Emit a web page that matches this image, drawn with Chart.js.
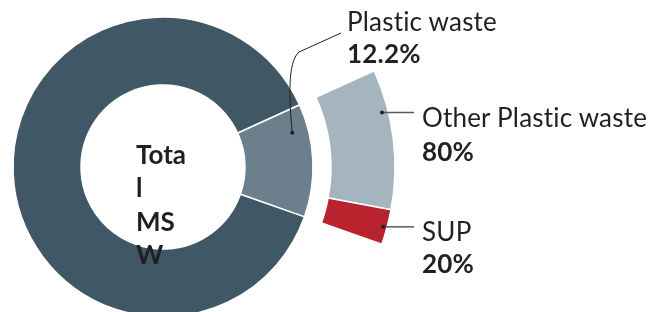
<!DOCTYPE html>
<html lang="en">
<head>
    <meta charset="UTF-8">
    <title>Total MSW - Plastic waste</title>
    <script src="https://cdn.jsdelivr.net/npm/chart.js"></script>
    <style>
        body {
            margin: 0;
            width: 650px;
            height: 312px;
            overflow: hidden;
            position: relative;
            background: #fff;
            font-family: Lato, sans-serif;
            color: #231f20;
        }

        #chart {
            position: absolute;
            left: -69px;
            top: -65px;
        }

        .lbl {
            position: absolute;
            font-size: 26px;
            line-height: 26px;
            letter-spacing: 0.2px;
            white-space: nowrap;
        }

        .lbl b {
            font-weight: 700;
        }

        .centre {
            position: absolute;
            left: 136px;
            top: 138px;
            width: 56px;
            font-size: 26px;
            font-weight: 700;
            line-height: 33.3px;
            overflow-wrap: anywhere;
        }
    </style>
</head>
<body>
    <canvas id="chart" width="719" height="464"></canvas>

    <div class="centre" id="centreText"></div>
    <div class="lbl" id="lblPlastic" style="left:347px;top:8px"></div>
    <div class="lbl" id="valPlastic" style="left:347px;top:40px"></div>
    <div class="lbl" id="lblOther" style="left:422px;top:104px"></div>
    <div class="lbl" id="valOther" style="left:422px;top:138px"></div>
    <div class="lbl" id="lblSup" style="left:422px;top:218px"></div>
    <div class="lbl" id="valSup" style="left:422px;top:250px"></div>

    <script>
        // share of total MSW (%)
        const mswLabels = ['Plastic waste', 'Rest of MSW'];
        const mswValues = [12.2, 87.8];

        // split of the plastic waste (%)
        const plasticLabels = ['Other Plastic waste', 'SUP'];
        const plasticValues = [80, 20];

        const centreLabel = 'Total MSW';

        const colDark = '#405865';
        const colPlastic = '#6b808c';
        const colOther = '#a5b5bf';
        const colSup = '#b8232e';

        // page offset of the canvas
        const CANVAS_LEFT = -69;
        const CANVAS_TOP = -65;

        // fill the text
        document.getElementById('centreText').textContent = centreLabel;
        document.getElementById('lblPlastic').textContent = mswLabels[0];
        document.getElementById('valPlastic').innerHTML = '<b>' + mswValues[0] + '%</b>';
        document.getElementById('lblOther').textContent = plasticLabels[0];
        document.getElementById('valOther').innerHTML = '<b>' + plasticValues[0] + '%</b>';
        document.getElementById('lblSup').textContent = plasticLabels[1];
        document.getElementById('valSup').innerHTML = '<b>' + plasticValues[1] + '%</b>';

        // outer (exploded) ring: plastic waste broken down, rest left empty
        const outerRing = plasticValues.map(v => mswValues[0] * v / 100);
        outerRing.push(mswValues[1]);

        // point on an arc element: f = fraction along the angle, g = fraction across the ring
        function arcPoint(arc, f, g) {
            const a = arc.startAngle + (arc.endAngle - arc.startAngle) * f;
            const r = arc.innerRadius + (arc.outerRadius - arc.innerRadius) * g;
            return { x: arc.x + Math.cos(a) * r, y: arc.y + Math.sin(a) * r };
        }

        function dot(ctx, p) {
            ctx.beginPath();
            ctx.arc(p.x, p.y, 2, 0, Math.PI * 2);
            ctx.fill();
        }

        // leader lines from the slices to the labels
        const leaders = {
            id: 'leaders',
            afterDatasetsDraw(chart) {
                const ctx = chart.ctx;
                const outer = chart.getDatasetMeta(0).data;
                const inner = chart.getDatasetMeta(2).data;
                const ox = -CANVAS_LEFT, oy = -CANVAS_TOP;
                ctx.save();

                // Plastic waste
                const p = arcPoint(inner[0], 0.22, 0.76);
                ctx.strokeStyle = '#231f20';
                ctx.fillStyle = '#231f20';
                ctx.lineWidth = 1;
                ctx.beginPath();
                ctx.moveTo(p.x, p.y);
                ctx.bezierCurveTo(p.x - 3, 100 + oy, p.x - 5, 62 + oy, 299 + ox, 52 + oy);
                ctx.lineTo(341 + ox, 33 + oy);
                ctx.stroke();
                dot(ctx, p);

                // Other plastic waste / SUP
                ctx.strokeStyle = '#5a5a5a';
                ctx.lineWidth = 1.5;
                [[outer[0], 0.3, 0.9], [outer[1], 0.52, 0.94]].forEach(([arc, f, g]) => {
                    const q = arcPoint(arc, f, g);
                    ctx.beginPath();
                    ctx.moveTo(q.x, q.y);
                    ctx.lineTo(414 + ox, q.y);
                    ctx.stroke();
                    ctx.fillStyle = '#231f20';
                    dot(ctx, q);
                });
                ctx.restore();
            }
        };

        new Chart(document.getElementById('chart'), {
            type: 'doughnut',
            data: {
                labels: ['a', 'b', 'c'],
                datasets: [
                    {
                        data: outerRing,
                        backgroundColor: [colOther, colSup, 'rgba(0,0,0,0)'],
                        borderColor: '#fff',
                        borderWidth: [1.5, 1.5, 0],
                        weight: 64
                    },
                    {
                        // gap between the rings
                        data: [100],
                        backgroundColor: 'rgba(0,0,0,0)',
                        borderWidth: 0,
                        weight: 18
                    },
                    {
                        data: mswValues,
                        backgroundColor: [colPlastic, colDark],
                        borderColor: '#fff',
                        borderWidth: 1.5,
                        weight: 68
                    }
                ]
            },
            options: {
                responsive: false,
                animation: false,
                rotation: 65.5,
                radius: 232,
                cutout: '35.345%',
                layout: { padding: { left: 0, top: 0, right: 255, bottom: 0 } },
                events: [],
                plugins: {
                    legend: { display: false },
                    tooltip: { enabled: false }
                }
            },
            plugins: [leaders]
        });
    </script>
</body>
</html>
